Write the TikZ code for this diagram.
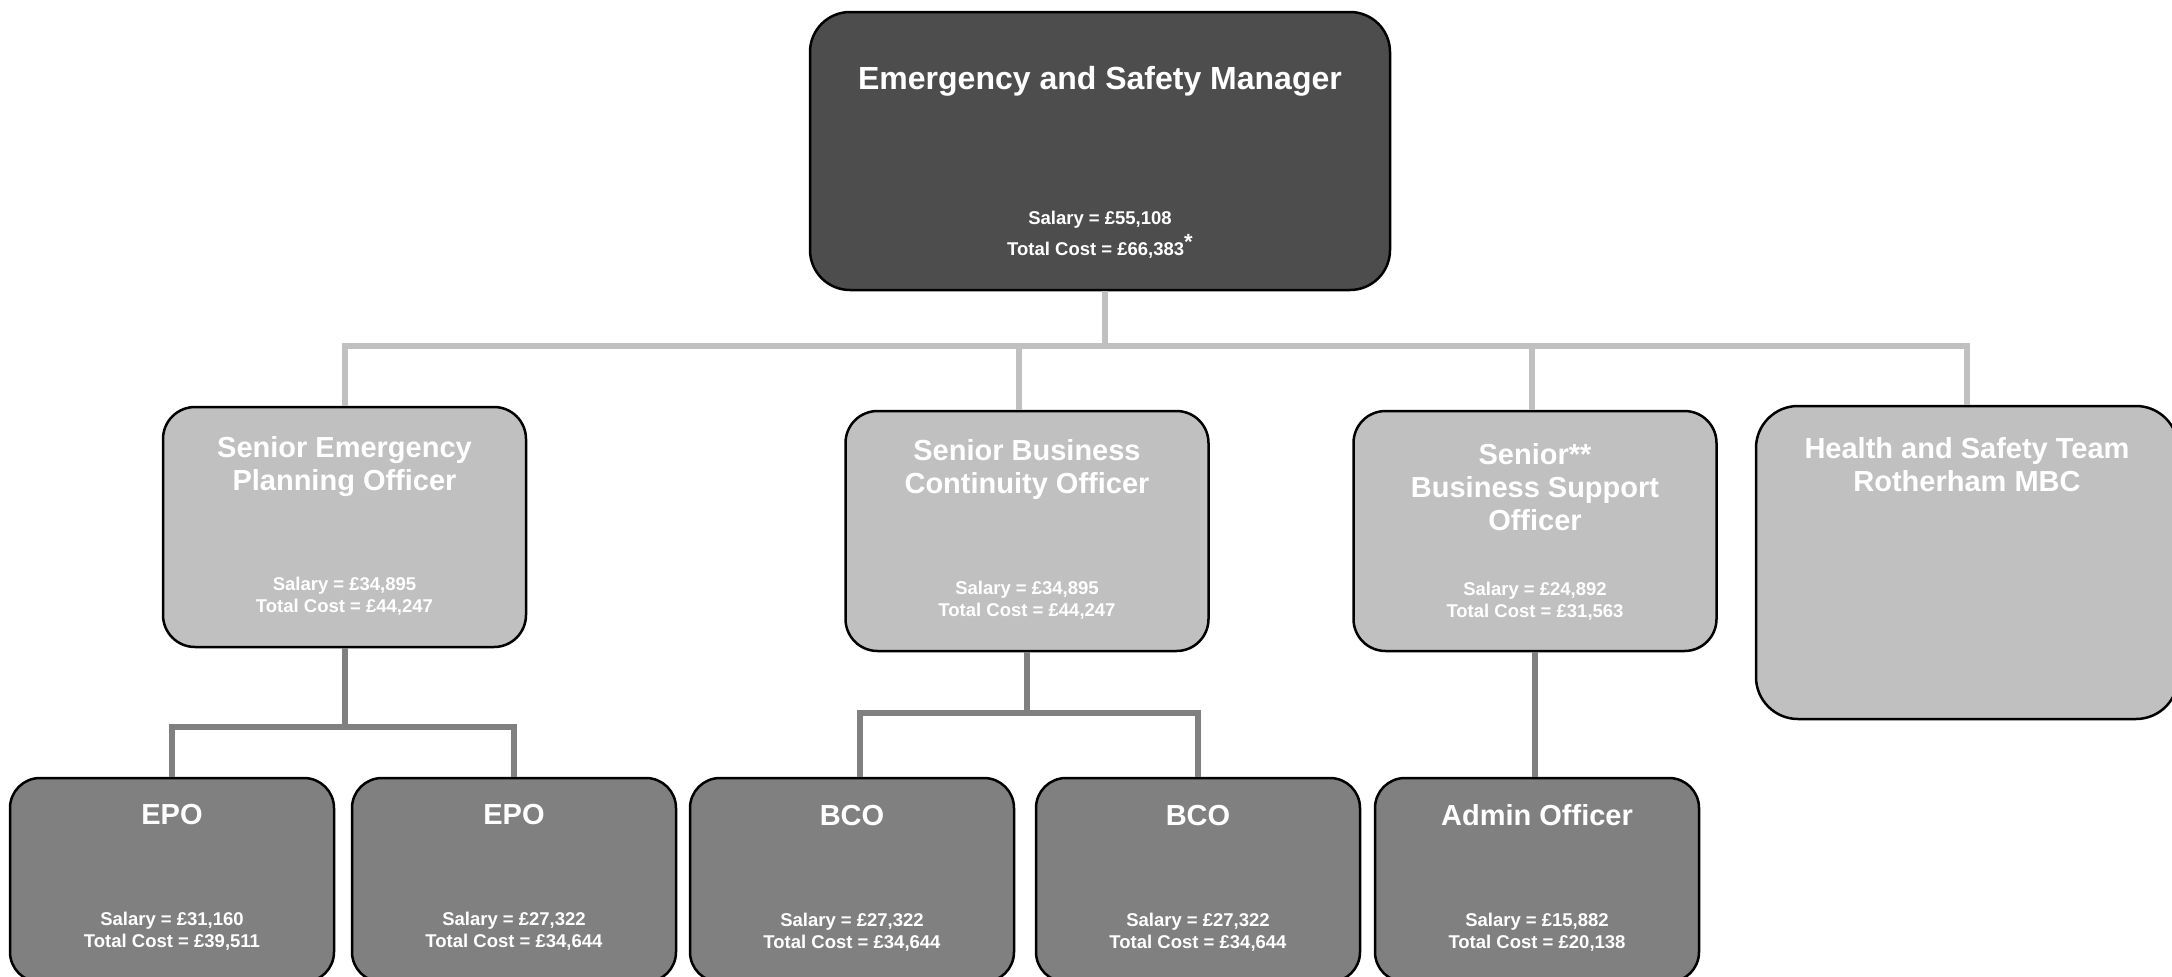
\documentclass[tikz,border=0pt]{standalone}
\usepackage{fontspec}
\setmainfont{Liberation Sans}
\usetikzlibrary{calc}
\definecolor{darkfill}{HTML}{4D4D4D}
\definecolor{midfill}{HTML}{808080}
\definecolor{lightfill}{HTML}{C0C0C0}
\tikzset{
  box/.style={draw=black, line width=2.5pt, rectangle, inner sep=0pt},
  mgrbox/.style={box, fill=darkfill, minimum width=580pt, minimum height=278pt, rounded corners=40pt},
  seniorbox/.style={box, fill=lightfill, minimum width=363pt, minimum height=240pt, rounded corners=32pt},
  hsbox/.style={box, fill=lightfill, minimum width=422pt, minimum height=313pt, rounded corners=42pt},
  offbox/.style={box, fill=midfill, minimum width=324pt, minimum height=204pt, rounded corners=30pt},
  ttl/.style={text=white, font=\bfseries\fontsize{29}{33}\selectfont, align=center, inner sep=0pt},
  bigttl/.style={ttl, font=\bfseries\fontsize{32}{36}\selectfont},
  pay/.style={text=white, font=\bfseries\fontsize{18.5}{22}\selectfont, align=center, inner sep=0pt},
  toppay/.style={pay, font=\bfseries\fontsize{18.5}{31}\selectfont},
  linkA/.style={draw=lightfill, line width=6pt},
  linkB/.style={draw=midfill, line width=6pt},
}
\begin{document}
\begin{tikzpicture}[x=1pt,y=-1pt]
\useasboundingbox (0,0) rectangle (2172,977);

% boxes
\node[mgrbox] (top) at (1100,151) {};
\node[seniorbox] (sepo) at (344.5,527) {};
\node[seniorbox] (sbco) at (1027,531) {};
\node[seniorbox] (sbso) at (1535,531) {};
\node[hsbox] (hs) at (1967,562.5) {};
\node[offbox] (epoa) at (172,880) {};
\node[offbox] (epob) at (514,880) {};
\node[offbox] (bcoa) at (852,880) {};
\node[offbox] (bcob) at (1198,880) {};
\node[offbox] (admin) at (1537,880) {};

% texts
\node[bigttl] (topT) at ($(top.north)+(0,71)$) {Emergency and Safety Manager};
\node[toppay] (topP) at ($(top.north)+(0,224)$) {Salary = £55,108\\Total Cost = £66,383\raisebox{0.32em}{\fontsize{22}{22}\selectfont *}};

\node[ttl] (sepoT) at ($(sepo.north)+(0,61)$) {Senior Emergency\\Planning Officer};
\node[pay] (sepoP) at ($(sepo.north)+(0,190)$) {Salary = £34,895\\Total Cost = £44,247};

\node[ttl] (sbcoT) at ($(sbco.north)+(0,60)$) {Senior Business\\Continuity Officer};
\node[pay] (sbcoP) at ($(sbco.north)+(0,190)$) {Salary = £34,895\\Total Cost = £44,247};

\node[ttl] (sbsoT) at ($(sbso.north)+(0,77)$) {Senior**\\Business Support\\Officer};
\node[pay] (sbsoP) at ($(sbso.north)+(0,191.5)$) {Salary = £24,892\\Total Cost = £31,563};

\node[ttl] (hsT) at ($(hs.north)+(0,60)$) {Health and Safety Team\\Rotherham MBC};

\node[ttl] (epoaT) at ($(epoa.north)+(0,37.5)$) {EPO};
\node[pay] (epoaP) at ($(epoa.north)+(0,154)$) {Salary = £31,160\\Total Cost = £39,511};
\node[ttl] (epobT) at ($(epob.north)+(0,37.5)$) {EPO};
\node[pay] (epobP) at ($(epob.north)+(0,154)$) {Salary = £27,322\\Total Cost = £34,644};
\node[ttl] (bcoaT) at ($(bcoa.north)+(0,38.5)$) {BCO};
\node[pay] (bcoaP) at ($(bcoa.north)+(0,155)$) {Salary = £27,322\\Total Cost = £34,644};
\node[ttl] (bcobT) at ($(bcob.north)+(0,38.5)$) {BCO};
\node[pay] (bcobP) at ($(bcob.north)+(0,155)$) {Salary = £27,322\\Total Cost = £34,644};
\node[ttl] (adminT) at ($(admin.north)+(0,38.5)$) {Admin Officer};
\node[pay] (adminP) at ($(admin.north)+(0,155)$) {Salary = £15,882\\Total Cost = £20,138};

% top-level connectors
\draw[linkA] ($(top.south)+(4.5,0)$) -- ++(0,55) coordinate (bus);
\draw[linkA] (sepo.north) -- (sepo.north |- bus) -- (hs.north |- bus) -- (hs.north);
\draw[linkA] ($(sbco.north)+(-8,0)$) -- ($(sbco.north |- bus)+(-8,0)$);
\draw[linkA] ($(sbso.north)+(-3,0)$) -- ($(sbso.north |- bus)+(-3,0)$);

% second-level connectors
\draw[linkB] (sepo.south) -- ++(0,79) coordinate (sbus);
\draw[linkB] (epoa.north) -- (epoa.north |- sbus) -- (epob.north |- sbus) -- (epob.north);
\draw[linkB] (sbco.south) -- ++(0,61) coordinate (cbus);
\draw[linkB] ($(bcoa.north)+(8,0)$) -- ($(bcoa.north |- cbus)+(8,0)$) -- (bcob.north |- cbus) -- (bcob.north);
\draw[linkB] (sbso.south) -- (sbso.south |- admin.north);
\end{tikzpicture}
\end{document}
